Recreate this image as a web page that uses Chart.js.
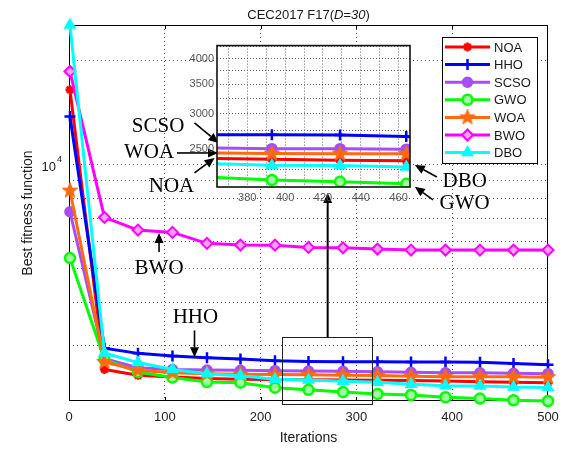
<!DOCTYPE html>
<html>
<head>
<meta charset="utf-8">
<script src="https://cdn.jsdelivr.net/npm/chart.js@4.4.0/dist/chart.umd.min.js"></script>
<style>
  html, body { margin: 0; padding: 0; background: #fff; }
  #wrap { position: relative; width: 569px; height: 450px; }
  #main { position: absolute; left: 0; top: 0; }
  #inset { position: absolute; left: 180px; top: 36px; }
</style>
</head>
<body>
<div id="wrap">
  <canvas id="main" width="569" height="450"></canvas>
  <canvas id="inset" width="240" height="172"></canvas>
</div>
<script>
// iterations where markers sit
const iterations = [1, 37, 72, 108, 144, 179, 215, 250, 286, 322, 357, 393, 429, 464, 500];

// best fitness per algorithm
const noaValues  = [16500, 2560, 2462, 2435, 2410, 2400, 2395, 2390, 2386, 2383, 2380, 2369, 2358, 2350, 2345];
const hhoValues  = [13800, 2950, 2850, 2800, 2770, 2745, 2712, 2700, 2696, 2694, 2692, 2690, 2688, 2666, 2640];
const scsoValues = [7320, 2752, 2590, 2560, 2550, 2545, 2540, 2535, 2530, 2520, 2512, 2503, 2503, 2497, 2490];
const gwoValues  = [5375, 2734, 2517, 2425, 2355, 2345, 2268, 2235, 2202, 2175, 2160, 2127, 2109, 2085, 2075];
const woaValues  = [8424, 2690, 2546, 2505, 2490, 2480, 2475, 2470, 2465, 2458, 2448, 2440, 2439, 2438, 2432];
const bwoValues  = [18640, 7050, 6480, 6380, 5930, 5864, 5860, 5773, 5758, 5709, 5671, 5671, 5671, 5671, 5671];
const dboValues  = [25400, 2857, 2680, 2560, 2490, 2455, 2400, 2385, 2368, 2350, 2320, 2296, 2294, 2276, 2270];

const seriesNames = ['NOA', 'HHO', 'SCSO', 'GWO', 'WOA', 'BWO', 'DBO'];
const seriesValues = { NOA: noaValues, HHO: hhoValues, SCSO: scsoValues, GWO: gwoValues, WOA: woaValues, BWO: bwoValues, DBO: dboValues };

// tick / grid values
const xTicks = [0, 100, 200, 300, 400, 500];
const yGridValues = [3000, 4000, 5000, 6000, 7000, 8000, 9000, 10000, 20000];
const insetXGrid = [370, 380, 390, 400, 410, 420, 430, 440, 450, 460];
const insetYGrid = [2250, 2500, 2750, 3000, 3250, 3500, 3750, 4000, 4250];

// annotations (in data units of the main plot)
const notes = [
  { text: 'SCSO', x: 93, y: 12900 },
  { text: 'WOA', x: 83.5, y: 10830 },
  { text: 'NOA', x: 107, y: 8640 },
  { text: 'DBO', x: 413, y: 8930 },
  { text: 'GWO', x: 413, y: 7760 },
  { text: 'BWO', x: 94, y: 5030 },
  { text: 'HHO', x: 132, y: 3630 }
];
const arrows = [
  { from: [131, 13240], to: [156, 11580] },
  { from: [112.7, 10830], to: [155.5, 10830] },
  { from: [131, 9480], to: [152, 10480] },
  { from: [384, 9230], to: [361, 10000] },
  { from: [380, 7920], to: [361, 8640] },
  { from: [94, 5600], to: [94, 6350] },
  { from: [131, 3320], to: [131, 2776] },
  { from: [270, 3172], to: [270, 8300], w: 2 }
];
const zoomBox = { x0: 222, x1: 316, y0: 2029, y1: 3172 };

const SANS = '"Liberation Sans", Arial, sans-serif';
const SERIF = '"Liberation Serif", "Times New Roman", serif';

function starImage(color, r) {
  const c = document.createElement('canvas');
  const s = Math.ceil(r * 2 + 4);
  c.width = s; c.height = s;
  const g = c.getContext('2d');
  g.beginPath();
  for (let i = 0; i < 10; i++) {
    const rad = i % 2 === 0 ? r : r * 0.42;
    const a = -Math.PI / 2 + i * Math.PI / 5;
    g.lineTo(s / 2 + rad * Math.cos(a), s / 2 + rad * Math.sin(a));
  }
  g.closePath();
  g.fillStyle = color; g.fill();
  g.strokeStyle = color; g.lineWidth = 1; g.stroke();
  return c;
}

const seriesStyles = {
  NOA:  { color: '#FF0000', point: 'star', radius: 4.5, fill: '#FF0000', bw: 2.5 },
  HHO:  { color: '#0000FF', point: 'cross', radius: 5.5, fill: '#0000FF', bw: 2.5 },
  SCSO: { color: '#A64DF5', point: 'circle', radius: 5, fill: '#A64DF5', bw: 1.5 },
  GWO:  { color: '#00FF00', point: 'circle', radius: 5, fill: '#A0FFA0', bw: 2.5 },
  WOA:  { color: '#FF6A10', point: starImage('#FF6A10', 8), radius: 8, fill: '#FF6A10', bw: 1 },
  BWO:  { color: '#FF00FF', point: 'rectRot', radius: 5.5, fill: '#FFA0FF', bw: 2 },
  DBO:  { color: '#00FFFF', point: 'triangle', radius: 6, fill: '#00FFFF', bw: 1.5 }
};

function makeDatasets(clip) {
  return seriesNames.map((name, i) => {
    const st = seriesStyles[name];
    return {
      label: name,
      data: iterations.map((x, k) => ({ x: x, y: seriesValues[name][k] })),
      borderColor: st.color,
      backgroundColor: st.fill,
      borderWidth: 3,
      pointStyle: st.point,
      pointRadius: st.radius,
      pointBorderWidth: st.bw,
      pointBorderColor: st.color,
      pointBackgroundColor: st.fill,
      tension: 0,
      clip: clip,
      order: seriesNames.length - i
    };
  });
}

const allValues = [].concat(...seriesNames.map(n => seriesValues[n]));
const yMin = Math.min(...allValues);
const yMax = Math.max(...allValues);

function drawArrow(ctx, x0, y0, x1, y1, w) {
  const ang = Math.atan2(y1 - y0, x1 - x0);
  const hl = 10, hw = 4.5;
  const bx = x1 - hl * Math.cos(ang), by = y1 - hl * Math.sin(ang);
  ctx.lineWidth = w;
  ctx.beginPath(); ctx.moveTo(x0, y0); ctx.lineTo(bx, by); ctx.stroke();
  ctx.beginPath();
  ctx.moveTo(x1, y1);
  ctx.lineTo(bx + hw * Math.sin(ang), by - hw * Math.cos(ang));
  ctx.lineTo(bx - hw * Math.sin(ang), by + hw * Math.cos(ang));
  ctx.closePath(); ctx.fill();
}

const mainDecor = {
  id: 'mainDecor',
  beforeDatasetsDraw(chart) {
    const { ctx, chartArea: a, scales } = chart;
    ctx.save();
    ctx.strokeStyle = '#000'; ctx.lineWidth = 1;
    ctx.strokeRect(a.left + 0.5, a.top + 0.5, a.width - 1, a.height - 1);
    // inward ticks
    xTicks.slice(1, -1).forEach(v => {
      const px = Math.round(scales.x.getPixelForValue(v)) + 0.5;
      ctx.beginPath();
      ctx.moveTo(px, a.bottom); ctx.lineTo(px, a.bottom - 4);
      ctx.moveTo(px, a.top); ctx.lineTo(px, a.top + 4);
      ctx.stroke();
    });
    ctx.restore();
  },
  afterDatasetsDraw(chart) {
    const { ctx, scales } = chart;
    const X = v => scales.x.getPixelForValue(v);
    const Y = v => scales.y.getPixelForValue(v);
    ctx.save();
    // zoom box
    ctx.strokeStyle = '#222'; ctx.lineWidth = 1;
    ctx.strokeRect(Math.round(X(zoomBox.x0)) + 0.5, Math.round(Y(zoomBox.y1)) + 0.5,
      Math.round(X(zoomBox.x1) - X(zoomBox.x0)), Math.round(Y(zoomBox.y0) - Y(zoomBox.y1)));
    // arrows
    ctx.strokeStyle = '#000'; ctx.fillStyle = '#000';
    arrows.forEach(ar => drawArrow(ctx, X(ar.from[0]), Y(ar.from[1]), X(ar.to[0]), Y(ar.to[1]), ar.w || 1.6));
    // labels
    ctx.font = '21px ' + SERIF;
    ctx.textAlign = 'center'; ctx.textBaseline = 'middle';
    notes.forEach(n => ctx.fillText(n.text, X(n.x), Y(n.y)));
    ctx.restore();
  },
  afterDraw(chart) {
    const { ctx, chartArea: a, scales } = chart;
    ctx.save();
    ctx.fillStyle = '#1a1a1a';
    // title with italic part
    const cx = (a.left + a.right) / 2;
    const parts = [['CEC2017 F17(', ''], ['D=30', 'italic '], [')', '']];
    let total = 0;
    parts.forEach(p => { ctx.font = p[1] + '13px ' + SANS; total += ctx.measureText(p[0]).width; });
    let tx = cx - total / 2;
    ctx.textBaseline = 'middle'; ctx.textAlign = 'left';
    parts.forEach(p => { ctx.font = p[1] + '13px ' + SANS; ctx.fillText(p[0], tx, 15); tx += ctx.measureText(p[0]).width; });
    // x axis title
    ctx.font = '14px ' + SANS; ctx.textAlign = 'center';
    ctx.fillText('Iterations', cx, 438);
    // y axis title
    ctx.save();
    ctx.translate(28, (a.top + a.bottom) / 2);
    ctx.rotate(-Math.PI / 2);
    ctx.fillText('Best fitness function', 0, 0);
    ctx.restore();
    // y tick label 10^4
    const y4 = scales.y.getPixelForValue(10000);
    ctx.textAlign = 'right'; ctx.font = '13px ' + SANS;
    ctx.fillText('10', 56, y4 + 2);
    ctx.textAlign = 'left'; ctx.font = '9px ' + SANS;
    ctx.fillText('4', 57, y4 - 5);
    // legend
    const lx = a.right - 106, ly = a.top + 11.5, lw = 95, lh = 126;
    ctx.fillStyle = '#fff';
    ctx.fillRect(lx, ly, lw, lh);
    ctx.strokeStyle = '#000'; ctx.lineWidth = 1;
    ctx.strokeRect(Math.round(lx) + 0.5, Math.round(ly) + 0.5, lw, lh);
    chart.data.datasets.forEach((ds, i) => {
      const ey = ly + 10.5 + i * 17.6;
      ctx.strokeStyle = ds.borderColor; ctx.lineWidth = 3;
      ctx.beginPath(); ctx.moveTo(lx + 3, ey); ctx.lineTo(lx + 48, ey); ctx.stroke();
      ctx.fillStyle = ds.pointBackgroundColor; ctx.strokeStyle = ds.pointBorderColor;
      ctx.lineWidth = ds.pointBorderWidth;
      Chart.helpers.drawPoint(ctx, { pointStyle: ds.pointStyle, radius: ds.pointRadius, borderWidth: ds.pointBorderWidth, rotation: 0 }, lx + 25.5, ey);
      ctx.fillStyle = '#1a1a1a'; ctx.font = '13px ' + SANS;
      ctx.textAlign = 'left'; ctx.textBaseline = 'middle';
      ctx.fillText(ds.label, lx + 52, ey + 1);
    });
    ctx.restore();
  }
};

new Chart(document.getElementById('main'), {
  type: 'line',
  data: { datasets: makeDatasets(false) },
  options: {
    responsive: false,
    animation: false,
    devicePixelRatio: 1,
    layout: { padding: { left: 0, right: 21, top: 25, bottom: 0 } },
    plugins: { legend: { display: false }, tooltip: { enabled: false }, title: { display: false } },
    scales: {
      x: {
        type: 'linear', min: 0, max: 500,
        afterBuildTicks: s => { s.ticks = xTicks.map(v => ({ value: v })); },
        afterFit: s => { s.height = 49; },
        ticks: { font: { family: SANS, size: 13 }, color: '#222', padding: 9, maxRotation: 0 },
        grid: {
          drawTicks: false,
          color: c => (c.tick && (c.tick.value === 0 || c.tick.value === 500)) ? 'rgba(0,0,0,0)' : '#555'
        },
        border: { display: false, dash: [1, 3] }
      },
      y: {
        type: 'logarithmic', min: yMin, max: yMax,
        afterBuildTicks: s => { s.ticks = yGridValues.map(v => ({ value: v })); },
        afterFit: s => { s.width = 69; },
        ticks: { display: false },
        grid: { drawTicks: false, color: '#555' },
        border: { display: false, dash: [1, 3] }
      }
    }
  },
  plugins: [mainDecor]
});

const insetDecor = {
  id: 'insetDecor',
  beforeDraw(chart) {
    const { ctx, chartArea: a } = chart;
    ctx.save();
    ctx.fillStyle = '#fff';
    ctx.fillRect(a.left, a.top, a.width, a.height);
    ctx.restore();
  },
  afterDatasetsDraw(chart) {
    const { ctx, chartArea: a } = chart;
    ctx.save();
    ctx.strokeStyle = '#111'; ctx.lineWidth = 1.6;
    ctx.strokeRect(a.left, a.top, a.width, a.height);
    ctx.restore();
  }
};

new Chart(document.getElementById('inset'), {
  type: 'line',
  data: { datasets: makeDatasets(0) },
  options: {
    responsive: false,
    animation: false,
    devicePixelRatio: 1,
    layout: { padding: { left: 0, right: 10, top: 8, bottom: 0 } },
    plugins: { legend: { display: false }, tooltip: { enabled: false } },
    scales: {
      x: {
        type: 'linear', min: 364, max: 466,
        afterBuildTicks: s => { s.ticks = insetXGrid.map(v => ({ value: v })); },
        afterFit: s => { s.height = 21; },
        ticks: {
          font: { family: SANS, size: 11 }, color: '#555', padding: 4, maxRotation: 0, autoSkip: false,
          callback: v => (v % 20 === 0 ? String(v) : '')
        },
        grid: { drawTicks: false, color: '#666' },
        border: { display: false, dash: [1, 2] }
      },
      y: {
        type: 'logarithmic', min: 2051, max: 4277,
        afterBuildTicks: s => { s.ticks = insetYGrid.map(v => ({ value: v })); },
        afterFit: s => { s.width = 37; },
        ticks: {
          font: { family: SANS, size: 11 }, color: '#555', padding: 3, autoSkip: false,
          callback: v => (v % 500 === 0 ? String(v) : '')
        },
        grid: { drawTicks: false, color: '#666' },
        border: { display: false, dash: [1, 2] }
      }
    }
  },
  plugins: [insetDecor]
});
</script>
</body>
</html>
